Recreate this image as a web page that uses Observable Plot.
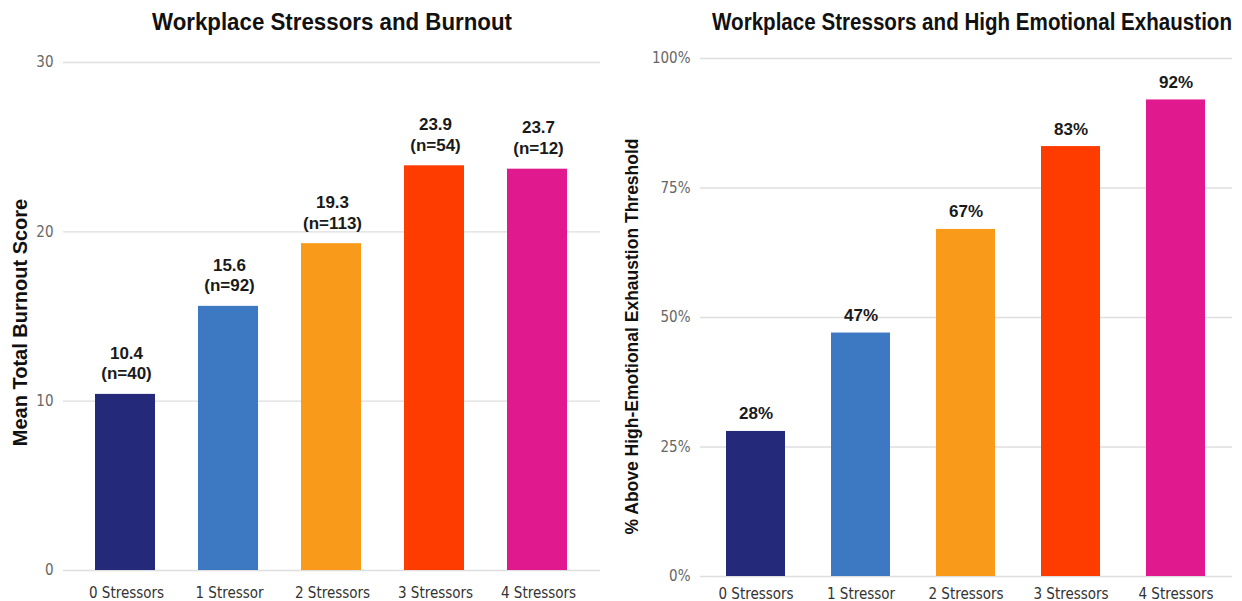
<!DOCTYPE html>
<html><head><meta charset="utf-8">
<script src="https://cdn.jsdelivr.net/npm/d3@7"></script>
<script src="https://cdn.jsdelivr.net/npm/@observablehq/plot@0.6"></script>
<style>
body{margin:0;background:#fff;width:1242px;height:601px;overflow:hidden;position:relative;font-family:"DejaVu Sans Condensed",sans-serif;}
.title{position:absolute;top:8px;height:28px;line-height:28px;font-weight:bold;font-size:23px;color:#111;white-space:nowrap;font-family:"Liberation Sans",Arial,sans-serif;transform-origin:0 50%}
.chart{position:absolute;top:40px}
</style></head><body>
<div class="title" id="t1" data-center="332" data-width="360">Workplace Stressors and Burnout</div>
<div class="title" id="t2" data-center="972" data-width="520">Workplace Stressors and High Emotional Exhaustion</div>
<div id="c1" class="chart" style="left:0"></div>
<div id="c2" class="chart" style="left:620px"></div>
<script>
const categories = ["0 Stressors","1 Stressor","2 Stressors","3 Stressors","4 Stressors"];
const burnoutMean = [10.4, 15.6, 19.3, 23.9, 23.7];
const sampleSizes = [40, 92, 113, 54, 12];
const exhaustionPct = [28, 47, 67, 83, 92];
const barColors = ["#25297a","#3d78c2","#f99a1a","#ff3c00","#e0198f"];
const burnoutTicks = [0, 10, 20, 30];
const pctTicks = [0, 25, 50, 75, 100];

const FONT = '"DejaVu Sans Condensed",sans-serif';
const BOLD = '"Liberation Sans","Arial",sans-serif';

// condensed titles: scale horizontally to the reference width
for (const el of document.querySelectorAll(".title")) {
  const w = el.getBoundingClientRect().width;
  const target = +el.dataset.width, center = +el.dataset.center;
  el.style.left = (center - target / 2) + "px";
  el.style.transform = `scaleX(${target / w})`;
}

const burnoutData = categories.map((c, i) => ({cat: c, value: burnoutMean[i], n: sampleSizes[i]}));
const pctData = categories.map((c, i) => ({cat: c, value: exhaustionPct[i]}));

const left = Plot.plot({
  width: 620, height: 561,
  marginLeft: 63, marginRight: 20, marginTop: 22, marginBottom: 31,
  style: {fontFamily: FONT, fontSize: "15px", background: "transparent", overflow: "visible"},
  x: {domain: categories, paddingInner: 0.42, paddingOuter: 0.3, label: null},
  y: {domain: [0, 30], label: null},
  color: {domain: categories, range: barColors},
  marks: [
    Plot.ruleY(burnoutTicks, {stroke: "#dedede", strokeWidth: 1.3}),
    Plot.barY(burnoutData, {x: "cat", y: "value", fill: "cat", insetLeft: -1, insetRight: 1}),
    Plot.text(burnoutData, {x: "cat", y: "value", text: d => `${d.value.toFixed(1)}\n(n=${d.n})`,
      lineAnchor: "bottom", dy: -15, lineHeight: 1.22, fontWeight: "bold", fontSize: 17, fill: "#1a1a1a", fontFamily: BOLD}),
    Plot.axisX({tickSize: 0, tickPadding: 17, label: null, color: "#333"}),
    Plot.axisY({ticks: burnoutTicks, tickSize: 0, tickPadding: 10, label: null, color: "#666"}),
    Plot.text(["Mean Total Burnout Score"], {text: d => d, frameAnchor: "left", textAnchor: "middle", rotate: -90, dx: -43, dy: 6,
      fontWeight: "bold", fontSize: 20, fill: "#111", fontFamily: BOLD})
  ]
});
document.getElementById("c1").append(left);

const right = Plot.plot({
  width: 622, height: 561,
  marginLeft: 80, marginRight: 10, marginTop: 18, marginBottom: 25,
  style: {fontFamily: FONT, fontSize: "15px", background: "transparent", overflow: "visible"},
  x: {domain: categories, paddingInner: 0.434, paddingOuter: 0.227, label: null},
  y: {domain: [0, 100], label: null},
  color: {domain: categories, range: barColors},
  marks: [
    Plot.ruleY(pctTicks, {stroke: "#dedede", strokeWidth: 1.3}),
    Plot.barY(pctData, {x: "cat", y: "value", fill: "cat"}),
    Plot.text(pctData, {x: "cat", y: "value", text: d => `${d.value}%`,
      lineAnchor: "bottom", dy: -12, fontWeight: "bold", fontSize: 17, fill: "#1a1a1a", fontFamily: BOLD}),
    Plot.axisX({tickSize: 0, tickPadding: 12, label: null, color: "#333"}),
    Plot.axisY({ticks: pctTicks, tickFormat: d => `${d}%`, tickSize: 0, tickPadding: 10, label: null, color: "#666"}),
    Plot.text(["% Above High-Emotional Exhaustion Threshold"], {text: d => d, frameAnchor: "left", textAnchor: "middle", rotate: -90, dx: -68, dy: 19,
      fontWeight: "bold", fontSize: 17.5, fill: "#111", fontFamily: BOLD})
  ]
});
document.getElementById("c2").append(right);
</script>
</body></html>
